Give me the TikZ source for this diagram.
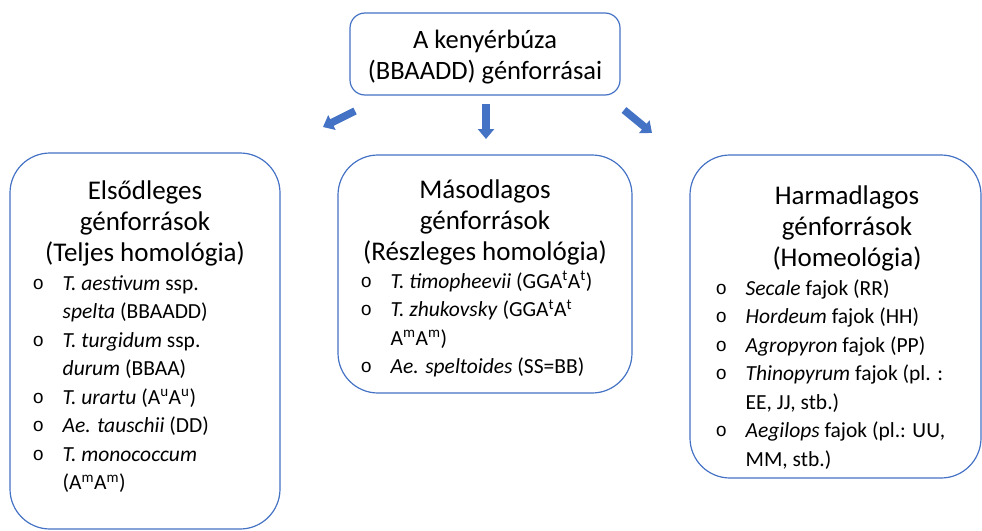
\documentclass[tikz,border=0pt]{standalone}
\usepackage{fontspec}
\setmainfont{Carlito}
\newfontfamily\bltfont{Liberation Mono}
\usetikzlibrary{arrows.meta}
\definecolor{officeblue}{HTML}{4472C4}
\newcommand{\bltitem}{\makebox[30pt][l]{\raisebox{1pt}{\bltfont\fontsize{19}{19}\selectfont o}}}
\newcommand{\itemind}{\hspace*{30pt}}
\newcommand{\sps}[1]{\textsuperscript{#1}}

\begin{document}
\begin{tikzpicture}[x=1pt,y=-1pt,
  box/.style={draw=officeblue,line width=1.2pt,rounded corners=40pt,inner sep=0pt},
  head/.style={align=center,inner sep=0pt,anchor=north,font=\fontsize{27}{31}\selectfont},
  items/.style={align=left,inner sep=0pt,anchor=north west,font=\fontsize{21.5}{28.5}\selectfont},
  blockarr/.style={officeblue,line width=7.5pt,-{Triangle[width=16pt,length=10pt]}}]
\useasboundingbox (0,0) rectangle (982,530);
% boxes
\node[box,rounded corners=15pt,minimum width=270pt,minimum height=82pt] (src) at (485,54) {};
\node[box,minimum width=270pt,minimum height=376pt] (prim) at (145,341) {};
\node[box,minimum width=294pt,minimum height=238pt] (sec) at (485,274) {};
\node[box,minimum width=291pt,minimum height=323pt] (tert) at (835.5,316.5) {};
% headings
\node[head,font=\fontsize{26.5}{31}\selectfont] (srchead) at (485,27) {\strut A kenyérbúza\\(BBAADD) génforrásai};
\node[head] (primhead) at (145,178) {\strut Elsődleges\\génforrások\\(Teljes homológia)};
\node[head] (sechead) at (485,177) {\strut Másodlagos\\génforrások\\(Részleges homológia)};
\node[head] (terthead) at (847,183) {\strut Harmadlagos\\génforrások\\(Homeológia)};
% lists
\node[items] (primlist) at (32.5,270) {\strut\bltitem\textit{T. aestivum} ssp.\\
  \itemind\textit{spelta} (BBAADD)\\
  \bltitem\textit{T. turgidum} ssp.\\
  \itemind\textit{durum} (BBAA)\\
  \bltitem\textit{T. urartu} (A\sps{u}A\sps{u})\\
  \bltitem\textit{Ae. tauschii} (DD)\\
  \bltitem\textit{T. monococcum}\\
  \itemind(A\sps{m}A\sps{m})};
\node[items] (seclist) at (360.5,268) {\strut\bltitem\textit{T. timopheevii} (GGA\sps{t}A\sps{t})\\
  \bltitem\textit{T. zhukovsky} (GGA\sps{t}A\sps{t}\\
  \itemind A\sps{m}A\sps{m})\\
  \bltitem\textit{Ae. speltoides} (SS=BB)};
\node[items] (tertlist) at (715.5,275) {\strut\bltitem\textit{Secale} fajok (RR)\\
  \bltitem\textit{Hordeum} fajok (HH)\\
  \bltitem\textit{Agropyron} fajok (PP)\\
  \bltitem\textit{Thinopyrum} fajok (pl. :\\
  \itemind EE, JJ, stb.)\\
  \bltitem\textit{Aegilops} fajok (pl.: UU,\\
  \itemind MM, stb.)};
% arrows
\coordinate (primtail) at (355,111);
\coordinate (primtip) at (323,127);
\coordinate (sectail) at (486,104);
\coordinate (sectip) at (486,139);
\coordinate (terttail) at (624,110);
\coordinate (terttip) at (652,133);
\draw[blockarr] (primtail) -- (primtip);
\draw[blockarr] (sectail) -- (sectip);
\draw[blockarr] (terttail) -- (terttip);
\end{tikzpicture}
\end{document}
